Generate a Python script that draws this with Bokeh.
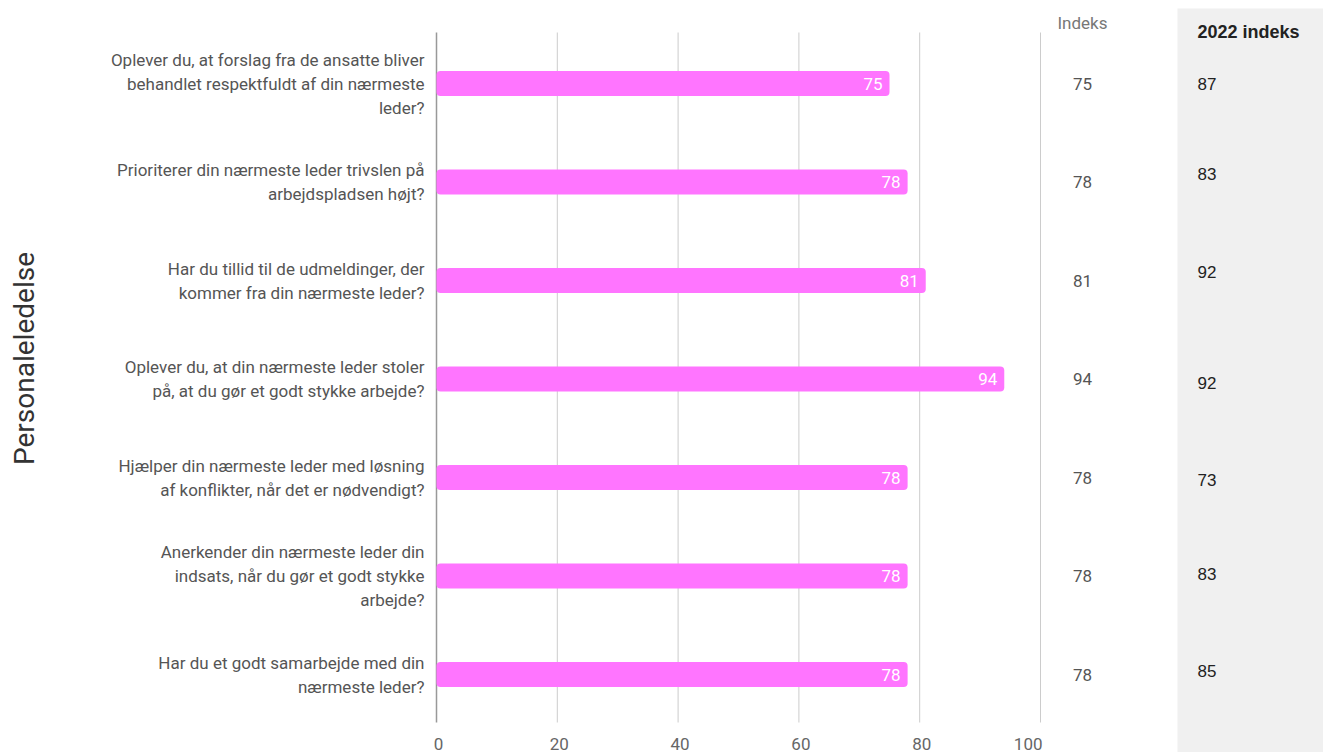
import math
from bokeh.plotting import figure
from bokeh.models import Range1d, ColumnDataSource
from bokeh.core.properties import value
from bokeh.embed import file_html
from bokeh.resources import INLINE

# ---------------- data ----------------
questions = [
    "Oplever du, at forslag fra de ansatte bliver\nbehandlet respektfuldt af din nærmeste\nleder?",
    "Prioriterer din nærmeste leder trivslen på\narbejdspladsen højt?",
    "Har du tillid til de udmeldinger, der\nkommer fra din nærmeste leder?",
    "Oplever du, at din nærmeste leder stoler\npå, at du gør et godt stykke arbejde?",
    "Hjælper din nærmeste leder med løsning\naf konflikter, når det er nødvendigt?",
    "Anerkender din nærmeste leder din\nindsats, når du gør et godt stykke\narbejde?",
    "Har du et godt samarbejde med din\nnærmeste leder?",
]
values = [75, 78, 81, 94, 78, 78, 78]
indeks = [75, 78, 81, 94, 78, 78, 78]
indeks_2022 = [87, 83, 92, 92, 73, 83, 85]
x_ticks = [0, 20, 40, 60, 80, 100]
group_title = "Personaleledelse"
col_title = "Indeks"
col2_title = "2022 indeks"

# ---------------- layout ----------------
W, H = 1323, 752
X0_PX, PX_PER_UNIT = 436, 6.04
Y0_PX, PX_PER_ROW = 83, 98.5

def px_x(px):
    return (px - X0_PX) / PX_PER_UNIT

def px_y(px):
    return (px - Y0_PX) / PX_PER_ROW

rows = list(range(len(questions)))
row_shift_2022 = [0, -8, -9, 4, 2, -2, -4]  # table row offsets (px)

p = figure(width=W, height=H, output_backend="svg", toolbar_location=None,
           x_range=Range1d(px_x(0), px_x(W)), y_range=Range1d(px_y(H), px_y(0)),
           min_border=0, min_border_left=0, min_border_right=0,
           min_border_top=0, min_border_bottom=0)
p.axis.visible = False
p.grid.visible = False
p.outline_line_color = None
p.background_fill_color = "white"
p.border_fill_color = "white"

# grey panel for 2022 column
p.quad(left=[px_x(1177)], right=[px_x(W)], top=[px_y(8)], bottom=[px_y(H)],
       fill_color="#f0f0f0", line_color=None)

# grid lines
tick_align = ["center" if t != x_ticks[-1] else "right" for t in x_ticks]
tick_src = ColumnDataSource(dict(x=x_ticks, lab=[str(t) for t in x_ticks], al=tick_align))
p.segment(x0=[t for t in x_ticks if t != 0], x1=[t for t in x_ticks if t != 0],
          y0=px_y(32), y1=px_y(722), line_color="#cccccc", line_width=1)
p.segment(x0=[0], x1=[0], y0=[px_y(32)], y1=[px_y(722)], line_color="#999999", line_width=1.5)

# bars
src = ColumnDataSource(dict(y=rows, v=values, lab=[str(v) for v in values],
                            q=questions, ix=[str(v) for v in indeks],
                            ix22=[str(v) for v in indeks_2022],
                            y22=[r + s / PX_PER_ROW for r, s in zip(rows, row_shift_2022)]))
p.hbar(y="y", left=0, right="v", height=25 / PX_PER_ROW, source=src,
       fill_color="#ff75ff", line_color=None, border_radius=4)

# value labels in bars
p.text(x="v", y="y", text="lab", source=src, x_offset=-7, text_align="right",
       text_baseline="middle", text_color="white", text_font_size="17px",
       text_font=value("Roboto"))

# question labels
p.text(x=px_x(424), y="y", text="q", source=src, text_align="right",
       text_baseline="middle", text_color="#555555", text_font_size="17px",
       text_line_height=1.2, text_font=value("Roboto"))

# Indeks column
p.text(x=px_x(1082), y="y", text="ix", source=src, text_align="center",
       text_baseline="middle", text_color="#555555", text_font_size="17px",
       text_font=value("Roboto"))
p.text(x=[px_x(1082)], y=[px_y(22)], text=[col_title], text_align="center",
       text_baseline="middle", text_color="#777777", text_font_size="17px",
       text_font=value("Roboto"))

# 2022 column
p.text(x=px_x(1197), y="y22", text="ix22", source=src, text_align="left",
       text_baseline="middle", text_color="#222222", text_font_size="17px",
       text_font=value("Liberation Sans"))
p.text(x=[px_x(1197)], y=[px_y(31)], text=[col2_title], text_align="left",
       text_baseline="middle", text_color="#222222", text_font_size="18px",
       text_font_style="bold", text_font=value("Liberation Sans"))

# x tick labels
p.text(x="x", y=px_y(743), text="lab", source=tick_src, x_offset=2,
       text_align="al", text_baseline="middle", text_color="#666666",
       text_font_size="17px", text_font=value("Roboto"))

# group title (rotated)
p.text(x=[px_x(24)], y=[px_y(358)], text=[group_title], angle=math.pi / 2,
       text_align="center", text_baseline="middle", text_color="#333333",
       text_font_size="28px", text_font=value("Roboto"))

open("out.html", "w").write(file_html(p, INLINE))
